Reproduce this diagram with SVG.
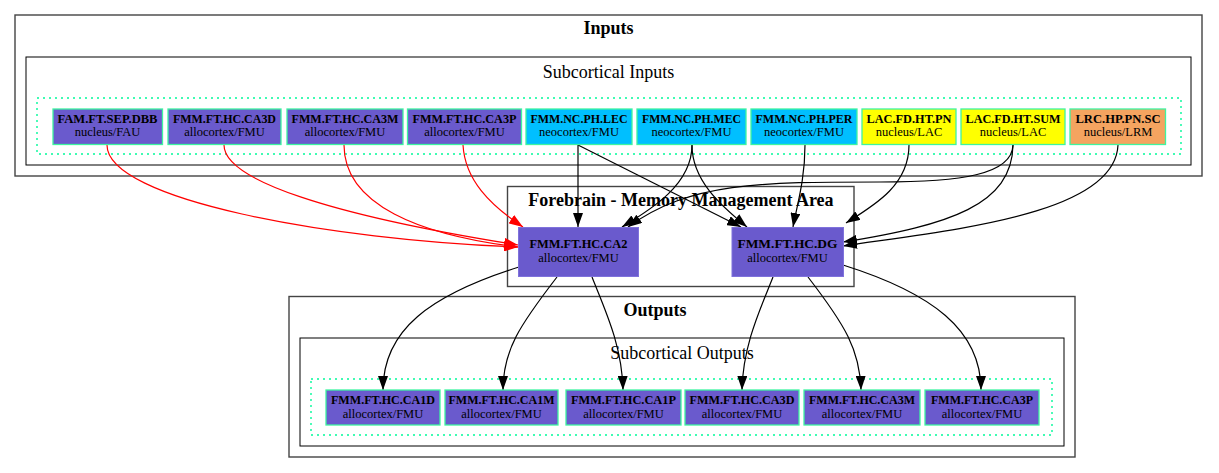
<svg xmlns="http://www.w3.org/2000/svg" width="1219" height="473" viewBox="0 0 1219 473">
<style>
.cl{fill:none;stroke:#444;stroke-width:1.4}
.sub{fill:none;stroke:#000;stroke-width:1}
.dot{fill:none;stroke:#00fa9a;stroke-width:1.4;stroke-dasharray:2 4}
.ct{font-family:"Liberation Serif",Times,serif;font-size:18px;text-anchor:middle;fill:#000}
.b{font-weight:bold}
.nb{font-family:"Liberation Serif",Times,serif;font-size:12px;font-weight:bold;text-anchor:middle;fill:#000}
.nr{font-family:"Liberation Serif",Times,serif;font-size:12.5px;text-anchor:middle;fill:#000}
.n rect{stroke:#3ef5a0;stroke-width:1.3}
.m rect{fill:#6a5acd;stroke:#7f72dc;stroke-width:1}
.sb rect{fill:#6a5acd}
.sk rect{fill:#00bfff}
.ye rect{fill:#ffff00}
.sa rect{fill:#f4a460}
.e{fill:none;stroke:#000;stroke-width:1.2}
.e.r{stroke:#ff0000}
</style>
<defs>
<marker id="ab" viewBox="0 0 14 10" refX="14" refY="5" markerWidth="14" markerHeight="10" markerUnits="userSpaceOnUse" orient="auto"><path d="M0,0 L14,5 L0,10 Z" fill="#000"/></marker>
<marker id="ar" viewBox="0 0 14 10" refX="14" refY="5" markerWidth="14" markerHeight="10" markerUnits="userSpaceOnUse" orient="auto"><path d="M0,0 L14,5 L0,10 Z" fill="#ff0000"/></marker>
</defs>
<rect width="1219" height="473" fill="#fff"/>

<g id="clusters">
<g id="cluster-inputs">
<rect class="cl" x="15" y="15" width="1187" height="161"/>
<text class="ct b" x="608.5" y="34">Inputs</text>
</g>
<g id="cluster-subcortical-inputs">
<rect class="sub" x="26" y="57" width="1165" height="108"/>
<text class="ct" x="608.5" y="78">Subcortical Inputs</text>
<rect class="dot" x="37" y="98" width="1144" height="56"/>
</g>
<g id="cluster-forebrain">
<rect class="cl" x="507.5" y="186.5" width="346.5" height="100"/>
<text class="ct b" x="681" y="206">Forebrain - Memory Management Area</text>
</g>
<g id="cluster-outputs">
<rect class="cl" x="289" y="296.5" width="786" height="160.5"/>
<text class="ct b" x="655" y="316">Outputs</text>
</g>
<g id="cluster-subcortical-outputs">
<rect class="sub" x="300" y="338" width="764" height="108"/>
<text class="ct" x="682" y="359">Subcortical Outputs</text>
<rect class="dot" x="311" y="379" width="741" height="56"/>
</g>
</g>

<g id="connectors">
<path class="e r" marker-end="url(#ar)" d="M107,145 C107,200 330,240 518,247"/>
<path class="e r" marker-end="url(#ar)" d="M224,145 C224,180 330,215 518,245"/>
<path class="e r" marker-end="url(#ar)" d="M344,145 C344,205 420,235 518,247"/>
<path class="e r" marker-end="url(#ar)" d="M463,145 C465,180 490,205 523,227"/>
<path class="e" marker-end="url(#ab)" d="M578,145 L578,227"/>
<path class="e" marker-end="url(#ab)" d="M578,145 L741,227"/>
<path class="e" marker-end="url(#ab)" d="M692,145 C692,185 650,210 622,227"/>
<path class="e" marker-end="url(#ab)" d="M692,145 C692,180 720,205 747,227"/>
<path class="e" marker-end="url(#ab)" d="M805,145 C805,180 797,205 793,227"/>
<path class="e" marker-end="url(#ab)" d="M909,145 C909,185 875,205 846,223"/>
<path class="e" marker-end="url(#ab)" d="M1013,145 C1012,175 960,182 880,182 C760,182 690,182 628,227"/>
<path class="e" marker-end="url(#ab)" d="M1013,145 C1012,205 950,225 843,242"/>
<path class="e" marker-end="url(#ab)" d="M1118,145 C1115,215 950,230 843,246"/>
<path class="e" marker-end="url(#ab)" d="M519,267 C430,295 383,330 383,390"/>
<path class="e" marker-end="url(#ab)" d="M557,277 C520,325 503,350 503,390"/>
<path class="e" marker-end="url(#ab)" d="M592,277 C605,310 622,345 623,390"/>
<path class="e" marker-end="url(#ab)" d="M773,277 C760,310 743,345 742,390"/>
<path class="e" marker-end="url(#ab)" d="M808,277 C845,325 860,350 861,390"/>
<path class="e" marker-end="url(#ab)" d="M843,265 C932,293 981,330 981,390"/>
</g>

<g id="in-FAM.FT.SEP.DBB" class="n sb"><rect x="53" y="109" width="109.5" height="35.5"/><text class="nb" x="107.5" y="122.5" textLength="100" lengthAdjust="spacingAndGlyphs">FAM.FT.SEP.DBB</text><text class="nr" x="107.5" y="135.5">nucleus/FAU</text></g>
<g id="in-FMM.FT.HC.CA3D" class="n sb"><rect x="168" y="109" width="113" height="35.5"/><text class="nb" x="224.5" y="122.5" textLength="103" lengthAdjust="spacingAndGlyphs">FMM.FT.HC.CA3D</text><text class="nr" x="224.5" y="135.5">allocortex/FMU</text></g>
<g id="in-FMM.FT.HC.CA3M" class="n sb"><rect x="287" y="109" width="116" height="35.5"/><text class="nb" x="345" y="122.5" textLength="107" lengthAdjust="spacingAndGlyphs">FMM.FT.HC.CA3M</text><text class="nr" x="345" y="135.5">allocortex/FMU</text></g>
<g id="in-FMM.FT.HC.CA3P" class="n sb"><rect x="407.5" y="109" width="114" height="35.5"/><text class="nb" x="464.5" y="122.5" textLength="104" lengthAdjust="spacingAndGlyphs">FMM.FT.HC.CA3P</text><text class="nr" x="464.5" y="135.5">allocortex/FMU</text></g>
<g id="in-FMM.NC.PH.LEC" class="n sk"><rect x="526" y="109" width="106" height="35.5"/><text class="nb" x="579" y="122.5" textLength="97" lengthAdjust="spacingAndGlyphs">FMM.NC.PH.LEC</text><text class="nr" x="579" y="135.5">neocortex/FMU</text></g>
<g id="in-FMM.NC.PH.MEC" class="n sk"><rect x="637" y="109" width="109" height="35.5"/><text class="nb" x="691.5" y="122.5" textLength="99" lengthAdjust="spacingAndGlyphs">FMM.NC.PH.MEC</text><text class="nr" x="691.5" y="135.5">neocortex/FMU</text></g>
<g id="in-FMM.NC.PH.PER" class="n sk"><rect x="751" y="109" width="106" height="35.5"/><text class="nb" x="804" y="122.5" textLength="97" lengthAdjust="spacingAndGlyphs">FMM.NC.PH.PER</text><text class="nr" x="804" y="135.5">neocortex/FMU</text></g>
<g id="in-LAC.FD.HT.PN" class="n ye"><rect x="862" y="109" width="94" height="35.5"/><text class="nb" x="909" y="122.5" textLength="85" lengthAdjust="spacingAndGlyphs">LAC.FD.HT.PN</text><text class="nr" x="909" y="135.5">nucleus/LAC</text></g>
<g id="in-LAC.FD.HT.SUM" class="n ye"><rect x="961" y="109" width="104" height="35.5"/><text class="nb" x="1013" y="122.5" textLength="95" lengthAdjust="spacingAndGlyphs">LAC.FD.HT.SUM</text><text class="nr" x="1013" y="135.5">nucleus/LAC</text></g>
<g id="in-LRC.HP.PN.SC" class="n sa"><rect x="1070" y="109" width="95.5" height="35.5"/><text class="nb" x="1118" y="122.5" textLength="85" lengthAdjust="spacingAndGlyphs">LRC.HP.PN.SC</text><text class="nr" x="1118" y="135.5">nucleus/LRM</text></g>

<g id="FMM.FT.HC.CA2" class="m"><rect x="518.5" y="227.5" width="120" height="49"/><text class="nb" x="578.5" y="247.5" textLength="98" lengthAdjust="spacingAndGlyphs">FMM.FT.HC.CA2</text><text class="nr" x="578.5" y="261.5">allocortex/FMU</text></g>
<g id="FMM.FT.HC.DG" class="m"><rect x="732" y="227.5" width="111.5" height="49"/><text class="nb" x="787.5" y="247.5" textLength="100" lengthAdjust="spacingAndGlyphs">FMM.FT.HC.DG</text><text class="nr" x="787.5" y="261.5">allocortex/FMU</text></g>

<g id="out-FMM.FT.HC.CA1D" class="n sb"><rect x="326" y="390" width="114" height="35"/><text class="nb" x="383" y="404" textLength="104" lengthAdjust="spacingAndGlyphs">FMM.FT.HC.CA1D</text><text class="nr" x="383" y="417.5">allocortex/FMU</text></g>
<g id="out-FMM.FT.HC.CA1M" class="n sb"><rect x="445" y="390" width="113" height="35"/><text class="nb" x="501.5" y="404" textLength="106" lengthAdjust="spacingAndGlyphs">FMM.FT.HC.CA1M</text><text class="nr" x="501.5" y="417.5">allocortex/FMU</text></g>
<g id="out-FMM.FT.HC.CA1P" class="n sb"><rect x="566" y="390" width="115" height="35"/><text class="nb" x="623.5" y="404" textLength="105" lengthAdjust="spacingAndGlyphs">FMM.FT.HC.CA1P</text><text class="nr" x="623.5" y="417.5">allocortex/FMU</text></g>
<g id="out-FMM.FT.HC.CA3D" class="n sb"><rect x="685" y="390" width="114" height="35"/><text class="nb" x="742" y="404" textLength="105" lengthAdjust="spacingAndGlyphs">FMM.FT.HC.CA3D</text><text class="nr" x="742" y="417.5">allocortex/FMU</text></g>
<g id="out-FMM.FT.HC.CA3M" class="n sb"><rect x="804" y="390" width="116" height="35"/><text class="nb" x="862" y="404" textLength="106" lengthAdjust="spacingAndGlyphs">FMM.FT.HC.CA3M</text><text class="nr" x="862" y="417.5">allocortex/FMU</text></g>
<g id="out-FMM.FT.HC.CA3P" class="n sb"><rect x="925" y="390" width="114" height="35"/><text class="nb" x="982" y="404" textLength="102" lengthAdjust="spacingAndGlyphs">FMM.FT.HC.CA3P</text><text class="nr" x="982" y="417.5">allocortex/FMU</text></g>
</svg>
